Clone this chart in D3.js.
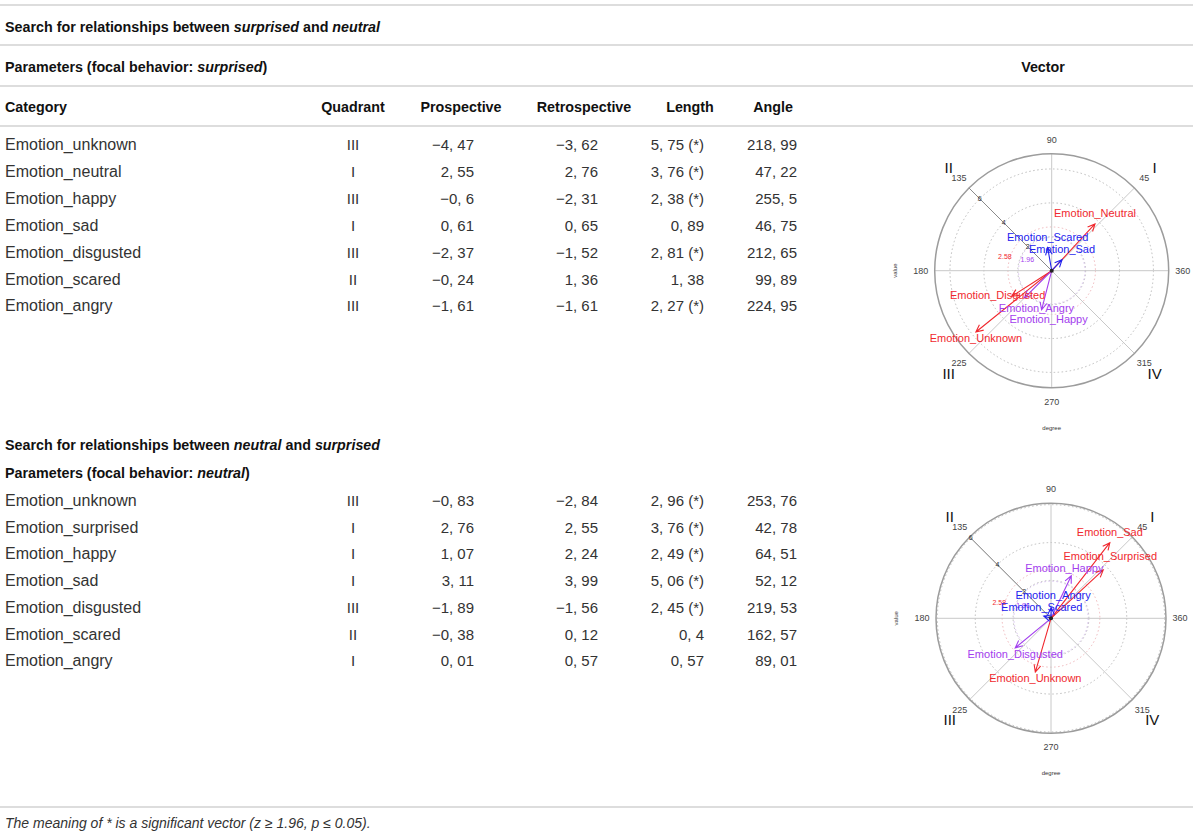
<!DOCTYPE html>
<html>
<head>
<meta charset="utf-8">
<script src="https://cdn.jsdelivr.net/npm/d3@7"></script>
<style>
    body { margin: 0; background: #fff; }
    svg text { font-family: "Liberation Sans", Arial, Helvetica, sans-serif; }
</style>
</head>
<body>
<div id="chart"></div>
<script>
// ---- data: surprised -> neutral
const categories1 = ["Emotion_unknown", "Emotion_neutral", "Emotion_happy", "Emotion_sad", "Emotion_disgusted", "Emotion_scared", "Emotion_angry"];
const quadrant1 = ["III", "I", "III", "I", "III", "II", "III"];
const prospective1 = [-4.47, 2.55, -0.6, 0.61, -2.37, -0.24, -1.61];
const retrospective1 = [-3.62, 2.76, -2.31, 0.65, -1.52, 1.36, -1.61];
const length1 = [5.75, 3.76, 2.38, 0.89, 2.81, 1.38, 2.27];
const angle1 = [218.99, 47.22, 255.5, 46.75, 212.65, 99.89, 224.95];

// ---- data: neutral -> surprised
const categories2 = ["Emotion_unknown", "Emotion_surprised", "Emotion_happy", "Emotion_sad", "Emotion_disgusted", "Emotion_scared", "Emotion_angry"];
const quadrant2 = ["III", "I", "I", "I", "III", "II", "I"];
const prospective2 = [-0.83, 2.76, 1.07, 3.11, -1.89, -0.38, 0.01];
const retrospective2 = [-2.84, 2.55, 2.24, 3.99, -1.56, 0.12, 0.57];
const length2 = [2.96, 3.76, 2.49, 5.06, 2.45, 0.4, 0.57];
const angle2 = [253.76, 42.78, 64.51, 52.12, 219.53, 162.57, 89.01];

// polar plot decorations
const angleTicks = [45, 90, 135, 180, 225, 270, 315, 360];
const quadrantNames = ["I", "II", "III", "IV"];
const quadrantAngles = [45, 135, 225, 315];
const thresholds = [1.96, 2.58];

// label nudges (px) where labels were pushed apart in the original
const labelNudge1 = {Emotion_disgusted: [-14, -7], Emotion_angry: [12, 4], Emotion_happy: [7, 3]};
const labelNudge2 = {Emotion_surprised: [7, -3], Emotion_happy: [-7, 3], Emotion_angry: [2, -1], Emotion_scared: [-2, 2]};

const W = 1200, H = 838;
const svg = d3.select("#chart").append("svg")
    .attr("width", W).attr("height", H)
    .attr("viewBox", `0 0 ${W} ${H}`);

const fmt = v => String(v).replace("-", "\u2212").replace(".", ", ");
const sigColor = l => l >= 2.58 ? "#f0282e" : l >= 1.96 ? "#a340ee" : "#2222ee";
const niceName = c => c.replace(/_(\w)/, (m, a) => "_" + a.toUpperCase());

// horizontal rules
const ruleY = [5, 45, 86, 126, 807];
svg.selectAll("line.rule").data(ruleY).join("line")
    .attr("class", "rule")
    .attr("x1", 0).attr("x2", 1193)
    .attr("y1", d => d).attr("y2", d => d)
    .attr("stroke", "#d2d2d2").attr("stroke-width", 1.6);

// bold lines with italic pieces
function richText(x, y, parts, size) {
    const t = svg.append("text").attr("x", x).attr("y", y)
        .style("font-size", size + "px").style("font-weight", "bold").attr("fill", "#111");
    parts.forEach(p => t.append("tspan").text(p[0]).style("font-style", p[1] ? "italic" : "normal"));
    return t;
}
richText(5, 32, [["Search for relationships between ", 0], ["surprised", 1], [" and ", 0], ["neutral", 1]], 14.3);
richText(5, 72, [["Parameters (focal behavior: ", 0], ["surprised", 1], [")", 0]], 14.3);
richText(1043, 72, [["Vector", 0]], 14.3).attr("text-anchor", "middle");
richText(5, 450, [["Search for relationships between ", 0], ["neutral", 1], [" and ", 0], ["surprised", 1]], 14.3);
richText(5, 478, [["Parameters (focal behavior: ", 0], ["neutral", 1], [")", 0]], 14.3);

// column header
const headers = ["Quadrant", "Prospective", "Retrospective", "Length", "Angle"];
const headerX = d3.scaleOrdinal(headers, [353, 461, 584, 690, 773]);
richText(5, 112, [["Category", 0]], 14.3);
svg.selectAll("text.hdr").data(headers).join("text")
    .attr("class", "hdr")
    .attr("x", d => headerX(d)).attr("y", 112)
    .attr("text-anchor", "middle")
    .style("font-size", "14.3px").style("font-weight", "bold").attr("fill", "#111")
    .text(d => d);

// table body
const colRight = {pro: 474, retro: 598, len: 704, ang: 797};
function drawRows(y0, step, cats, quad, pro, retro, len, ang) {
    const y = d3.scaleLinear([0, 1], [y0, y0 + step]);
    const rows = cats.map((c, i) => ({c, q: quad[i], p: pro[i], r: retro[i], l: len[i], a: ang[i], i}));
    const g = svg.append("g").style("font-size", "15px").attr("fill", "#333");
    const cells = [
        [d => d.c, 5, "start", 16],
        [d => d.q, 353, "middle", 15],
        [d => fmt(d.p), colRight.pro, "end", 15],
        [d => fmt(d.r), colRight.retro, "end", 15],
        [d => fmt(d.l) + (d.l >= 1.96 ? " (*)" : ""), colRight.len, "end", 15],
        [d => fmt(d.a), colRight.ang, "end", 15]
    ];
    cells.forEach(([f, x, anchor, size]) => {
        g.append("g").style("font-size", size + "px")
            .selectAll("text").data(rows).join("text")
            .attr("x", x).attr("y", d => y(d.i))
            .attr("text-anchor", anchor)
            .text(f);
    });
}
drawRows(150, 26.9, categories1, quadrant1, prospective1, retrospective1, length1, angle1);
drawRows(506, 26.7, categories2, quadrant2, prospective2, retrospective2, length2, angle2);

// footnote
svg.append("text").attr("x", 5).attr("y", 828)
    .style("font-size", "14px").style("font-style", "italic").attr("fill", "#333")
    .text("The meaning of * is a significant vector (z \u2265 1.96, p \u2264 0.05).");

// polar vector plot
function drawVector(cx, cy, R, cats, len, ang, nudge) {
    const g = svg.append("g").attr("transform", `translate(${cx},${cy})`);
    const r = d3.scaleLinear([0, d3.max(len) * 1.2], [0, R]);
    const rad = a => a * Math.PI / 180;
    const px = (v, a) => [r(v) * Math.cos(rad(a)), -r(v) * Math.sin(rad(a))];
    const out = (d, a) => [(R + d) * Math.cos(rad(a)), -(R + d) * Math.sin(rad(a))];

    // dotted rings
    const rings = r.ticks(3).filter(t => t > 0 && r(t) < R - 1);
    g.selectAll("circle.ring").data(rings).join("circle")
        .attr("r", d => r(d)).attr("fill", "none")
        .attr("stroke", "#bdbdbd").attr("stroke-width", 1).attr("stroke-dasharray", "1.5,2.5");
    g.selectAll("circle.thr").data(thresholds).join("circle")
        .attr("r", d => r(d)).attr("fill", "none")
        .attr("stroke", d => d === 2.58 ? "#f0b8bc" : "#d9c2f0").attr("stroke-width", 1).attr("stroke-dasharray", "1.5,2.5");

    // spokes
    g.selectAll("line.spoke").data([0, 45, 90, 135]).join("line")
        .attr("x1", d => out(0, d)[0]).attr("y1", d => out(0, d)[1])
        .attr("x2", d => -out(0, d)[0]).attr("y2", d => -out(0, d)[1])
        .attr("stroke", "#c8c8c8").attr("stroke-width", 1);
    g.append("line")
        .attr("x1", 0).attr("y1", 0)
        .attr("x2", out(0, 135)[0]).attr("y2", out(0, 135)[1])
        .attr("stroke", "#8a8a8a").attr("stroke-width", 1);

    g.append("circle").attr("r", R).attr("fill", "none")
        .attr("stroke", "#9c9c9c").attr("stroke-width", 1.5);

    // value ticks along 135
    g.selectAll("text.vt").data(r.ticks(3).filter(t => t > 0)).join("text")
        .attr("x", d => px(d, 135)[0]).attr("y", d => px(d, 135)[1])
        .attr("text-anchor", "middle").attr("dy", "0.35em")
        .style("font-size", "7px").attr("fill", "#333")
        .text(d => d);

    // threshold labels
    g.selectAll("text.thr").data(thresholds).join("text")
        .attr("x", d => d === 2.58 ? px(d, 163)[0] - 5 : px(d, 156)[0] + 6)
        .attr("y", d => d === 2.58 ? px(d, 163)[1] - 1 : px(d, 156)[1] + 2)
        .attr("text-anchor", "middle").attr("dy", "0.35em")
        .style("font-size", "7px")
        .attr("fill", d => d === 2.58 ? "#f0282e" : "#a340ee")
        .text(d => d.toFixed(2));

    // angle ticks and quadrant numerals
    g.selectAll("text.at").data(angleTicks).join("text")
        .attr("x", d => out(14, d)[0]).attr("y", d => out(14, d)[1])
        .attr("text-anchor", "middle").attr("dy", "0.35em")
        .style("font-size", "9px").attr("fill", "#444")
        .text(d => d);
    g.selectAll("text.qn").data(quadrantNames).join("text")
        .attr("x", (d, i) => out(R * 0.245, quadrantAngles[i])[0])
        .attr("y", (d, i) => out(R * 0.245, quadrantAngles[i])[1])
        .attr("text-anchor", "middle").attr("dy", "0.35em")
        .style("font-size", "15px").attr("fill", "#111")
        .text(d => d);

    g.append("text").attr("x", 0).attr("y", R + 42)
        .attr("text-anchor", "middle").style("font-size", "6px").attr("fill", "#333")
        .text("degree");
    g.append("text").attr("transform", `translate(${-R - 38},0)rotate(-90)`)
        .attr("text-anchor", "middle").style("font-size", "6px").attr("fill", "#333")
        .text("value");

    // vectors
    const vecs = cats.map((c, i) => ({c, l: len[i], a: ang[i], tip: px(len[i], ang[i])}));
    const head = 8, spread = 25 * Math.PI / 180;
    const vg = g.append("g").attr("fill", "none").attr("stroke-width", 1.1);
    vg.selectAll("path").data(vecs).join("path")
        .attr("stroke", d => sigColor(d.l))
        .attr("d", d => {
            const [x, y] = d.tip;
            const th = Math.atan2(y, x);
            const b1 = [x - head * Math.cos(th - spread), y - head * Math.sin(th - spread)];
            const b2 = [x - head * Math.cos(th + spread), y - head * Math.sin(th + spread)];
            return `M0,0L${x},${y}M${b1}L${x},${y}L${b2}`;
        });
    g.append("circle").attr("r", 2).attr("fill", "#222");

    g.selectAll("text.vl").data(vecs).join("text")
        .attr("x", d => d.tip[0] + (nudge[d.c] ? nudge[d.c][0] : 0))
        .attr("y", d => d.tip[1] + (Math.sin(rad(d.a)) > 0 ? -11 : 6) + (nudge[d.c] ? nudge[d.c][1] : 0))
        .attr("text-anchor", "middle").attr("dy", "0.35em")
        .style("font-size", "11px")
        .attr("fill", d => sigColor(d.l))
        .text(d => niceName(d.c));
}

drawVector(1051.7, 270.7, 117, categories1, length1, angle1, labelNudge1);
drawVector(1051, 618.3, 115, categories2, length2, angle2, labelNudge2);
</script>
</body>
</html>
